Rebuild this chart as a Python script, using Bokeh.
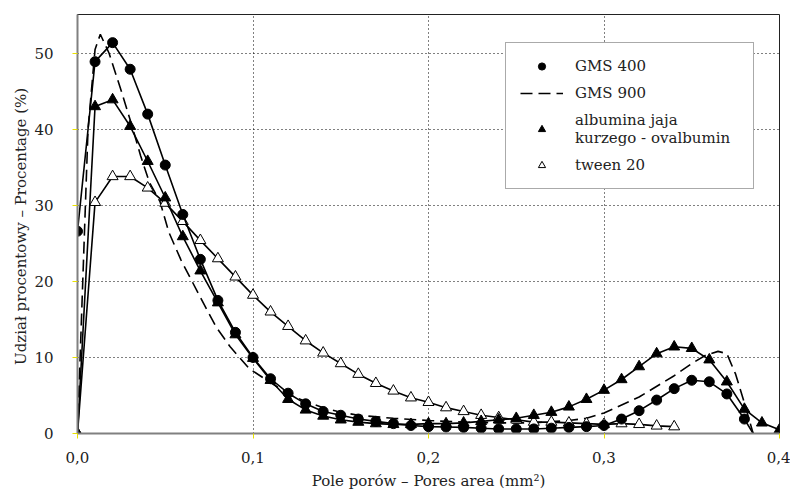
from bokeh.plotting import figure
from bokeh.models import (Range1d, FixedTicker, CustomJSTickFormatter, Legend, LegendItem)
from bokeh.embed import file_html
from bokeh.resources import INLINE

# ---- data ----
x_gms400 = [0.00, 0.01, 0.02, 0.03, 0.04, 0.05, 0.06, 0.07, 0.08, 0.09, 0.10,
            0.11, 0.12, 0.13, 0.14, 0.15, 0.16, 0.17, 0.18, 0.19, 0.20,
            0.21, 0.22, 0.23, 0.24, 0.25, 0.26, 0.27, 0.28, 0.29, 0.30,
            0.31, 0.32, 0.33, 0.34, 0.35, 0.36, 0.37, 0.38]
y_gms400 = [26.6, 48.9, 51.4, 47.9, 42.0, 35.3, 28.8, 22.9, 17.5, 13.3, 10.0,
            7.2, 5.3, 3.9, 2.9, 2.4, 1.9, 1.6, 1.3, 1.05, 0.9,
            0.85, 0.8, 0.7, 0.6, 0.6, 0.6, 0.7, 0.8, 0.9, 1.05,
            1.9, 3.0, 4.4, 5.9, 7.0, 6.8, 5.2, 1.9]
x_gms400_end = [0.38, 0.385]
y_gms400_end = [1.9, 0.0]

x_gms900 = [0.000, 0.003, 0.006, 0.010, 0.013, 0.018, 0.025, 0.031, 0.036, 0.041,
            0.047, 0.052, 0.059, 0.070, 0.079, 0.087, 0.098, 0.108, 0.120, 0.130,
            0.140, 0.150, 0.160, 0.180, 0.200, 0.220, 0.240, 0.260, 0.280, 0.290,
            0.300, 0.320, 0.340, 0.350, 0.358, 0.365, 0.370, 0.375, 0.380, 0.385]
y_gms900 = [0.0, 20.0, 40.0, 50.5, 52.5, 50.0, 45.0, 40.5, 36.5, 33.0,
            30.5, 26.5, 22.8, 17.9, 14.0, 11.4, 8.5, 7.0, 5.2, 4.2,
            3.4, 2.8, 2.4, 2.0, 1.7, 1.5, 1.4, 1.4, 1.7, 2.0,
            2.7, 4.8, 7.6, 9.2, 10.3, 10.8, 10.5, 7.8, 4.0, 0.0]

x_album = [0.00, 0.01, 0.02, 0.03, 0.04, 0.05, 0.06, 0.07, 0.08, 0.09, 0.10,
           0.11, 0.12, 0.13, 0.14, 0.15, 0.16, 0.17, 0.18, 0.19, 0.20,
           0.21, 0.22, 0.23, 0.24, 0.25, 0.26, 0.27, 0.28, 0.29, 0.30,
           0.31, 0.32, 0.33, 0.34, 0.35, 0.36, 0.37, 0.38, 0.39, 0.40]
y_album = [0.0, 43.0, 43.9, 40.4, 35.8, 31.0, 25.9, 21.4, 17.2, 13.0, 9.9,
           7.0, 4.5, 3.1, 2.3, 1.8, 1.5, 1.3, 1.2, 1.2, 1.3,
           1.3, 1.4, 1.6, 1.8, 2.0, 2.4, 2.8, 3.5, 4.5, 5.7,
           7.1, 8.8, 10.5, 11.4, 11.2, 9.7, 6.8, 3.2, 1.4, 0.5]

x_tween = [0.00, 0.01, 0.02, 0.03, 0.04, 0.05, 0.06, 0.07, 0.08, 0.09, 0.10,
           0.11, 0.12, 0.13, 0.14, 0.15, 0.16, 0.17, 0.18, 0.19, 0.20,
           0.21, 0.22, 0.23, 0.24, 0.25, 0.26, 0.27, 0.28, 0.29, 0.30,
           0.31, 0.32, 0.33, 0.34]
y_tween = [0.0, 30.4, 33.8, 33.8, 32.3, 30.3, 27.9, 25.4, 23.0, 20.6, 18.2,
           16.0, 14.1, 12.2, 10.6, 9.2, 7.8, 6.6, 5.6, 4.7, 4.1,
           3.4, 2.9, 2.4, 2.1, 1.8, 1.5, 1.5, 1.4, 1.3, 1.2,
           1.3, 1.2, 1.0, 0.9]

x_ticks = [0.0, 0.1, 0.2, 0.3, 0.4]
y_ticks = [0, 10, 20, 30, 40, 50]

series_labels = ["GMS 400", "GMS 900", "albumina jaja\nkurzego - ovalbumin", "tween 20"]
x_title = "Pole porów – Pores area (mm²)"
y_title = "Udział procentowy – Procentage  (%)"

FONT = "DejaVu Serif"

p = figure(width=790, height=495, output_backend="svg", toolbar_location=None,
           x_range=Range1d(0, 0.4), y_range=Range1d(0, 55.1),
           min_border_left=77, min_border_right=11, min_border_top=14, min_border_bottom=62)
p.background_fill_color = "white"
p.border_fill_color = "white"
p.outline_line_color = "#222222"
p.outline_line_width = 1

# grid
p.xgrid.ticker = FixedTicker(ticks=[0.1, 0.2, 0.3])
p.ygrid.ticker = FixedTicker(ticks=[10, 20, 30, 40, 50])
for g in (p.xgrid, p.ygrid):
    g.grid_line_color = "black"
    g.grid_line_dash = "1 3"
    g.grid_line_width = 1

# axes
p.xaxis.ticker = FixedTicker(ticks=x_ticks)
p.yaxis.ticker = FixedTicker(ticks=y_ticks)
p.xaxis.formatter = CustomJSTickFormatter(code="return tick.toFixed(1).replace('.', ',');")
for ax in (p.xaxis, p.yaxis):
    ax.axis_line_color = "#808080"
    ax.axis_line_width = 2
    ax.major_tick_line_color = "#e8e000"
    ax.major_tick_in = 0
    ax.major_tick_out = 5
    ax.minor_tick_line_color = None
    ax.major_label_text_font = FONT
    ax.major_label_text_font_size = "15px"
    ax.major_label_text_color = "#222222"
    ax.axis_label_text_font = FONT
    ax.axis_label_text_font_size = "15px"
    ax.axis_label_text_font_style = "normal"
    ax.axis_label_text_color = "#222222"
p.xaxis.axis_label = x_title
p.yaxis.axis_label = y_title
p.xaxis.major_label_standoff = 13
p.yaxis.major_label_standoff = 19
p.xaxis.axis_label_standoff = 6
p.yaxis.axis_label_standoff = 1

# series
r900 = p.line(x_gms900, y_gms900, line_color="black", line_width=1.6, line_dash="12 6")

p.line(x_tween, y_tween, line_color="black", line_width=1.6)
rtw = p.scatter(x_tween, y_tween, marker="triangle", size=11, fill_color="white",
                line_color="black", line_width=1)

p.line(x_album, y_album, line_color="black", line_width=1.6)
ral = p.scatter(x_album, y_album, marker="triangle", size=11, fill_color="black",
                line_color="black")

p.line(x_gms400, y_gms400, line_color="black", line_width=1.6)
p.line(x_gms400_end, y_gms400_end, line_color="black", line_width=1.6)
r400 = p.scatter(x_gms400, y_gms400, marker="circle", size=10, fill_color="black",
                 line_color="black")

legend = Legend(items=[
    LegendItem(label=series_labels[0], renderers=[r400]),
    LegendItem(label=series_labels[1], renderers=[r900]),
    LegendItem(label=series_labels[2], renderers=[ral]),
    LegendItem(label=series_labels[3], renderers=[rtw]),
], location=(428, 244))
legend.label_text_font = FONT
legend.label_text_font_size = "15px"
legend.label_text_line_height = 1.2
legend.label_text_color = "#222222"
legend.label_height = 18
legend.label_width = 164
legend.glyph_height = 18
legend.glyph_width = 43
legend.label_standoff = 12
legend.padding = 14
legend.spacing = 9
legend.margin = 0
legend.border_line_color = "#555555"
legend.border_line_width = 1
legend.background_fill_color = "white"
legend.background_fill_alpha = 1
p.add_layout(legend, "center")

open("out.html", "w").write(file_html(p, INLINE))
